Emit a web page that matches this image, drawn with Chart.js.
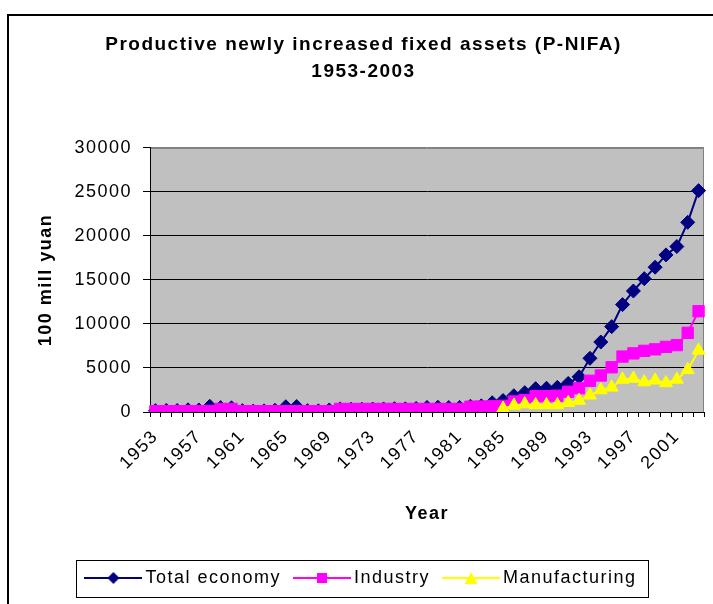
<!DOCTYPE html>
<html>
<head>
<meta charset="utf-8">
<title>P-NIFA 1953-2003</title>
<script src="https://cdn.jsdelivr.net/npm/chart.js@4.4.0/dist/chart.umd.min.js"></script>
<style>
  html, body { margin: 0; padding: 0; background: #fff; overflow: hidden; }
</style>
</head>
<body>
<canvas id="chart" width="713" height="604"></canvas>
<script>
// years on the category axis
const years = [
  '1953','1954','1955','1956','1957','1958','1959','1960','1961','1962',
  '1963','1964','1965','1966','1967','1968','1969','1970','1971','1972',
  '1973','1974','1975','1976','1977','1978','1979','1980','1981','1982',
  '1983','1984','1985','1986','1987','1988','1989','1990','1991','1992',
  '1993','1994','1995','1996','1997','1998','1999','2000','2001','2002','2003'
];

// 100 mill yuan
const totalEconomy = [
  150, 180, 170, 250, 230, 650, 500, 480, 150, 100,
  130, 200, 600, 620, 150, 130, 230, 350, 330, 320,
  340, 350, 380, 360, 400, 520, 540, 500, 520, 650,
  700, 1050, 1300, 1850, 2200, 2650, 2700, 2800, 3250, 4000,
  6100, 7950, 9700, 12200, 13750, 15150, 16450, 17850, 18800, 21550, 25150
];

const industry = [
  100, 100, 100, 100, 100, 120, 350, 350, 100, 100,
  100, 100, 100, 100, 100, 100, 100, 350, 350, 350,
  350, 350, 350, 350, 350, 350, 350, 350, 350, 600,
  620, 650, 700, 1200, 1350, 1800, 1800, 1850, 2300, 2700,
  3550, 4150, 5080, 6300, 6660, 6950, 7120, 7400, 7600, 9000, 11450
];

const manufacturing = [
  null, null, null, null, null, null, null, null, null, null,
  null, null, null, null, null, null, null, null, null, null,
  null, null, null, null, null, null, null, null, null, null,
  null, null, 400, 750, 900, 800, 800, 800, 1050, 1300,
  1900, 2500, 2800, 3700, 3800, 3400, 3600, 3300, 3700, 4800, 7000
];

const yMax = 30000;
const yStep = 5000;

const FONT = '"Liberation Sans", Arial, sans-serif';
const SPACING = '1.5px';

// line + marker swatches for the legend
function legendIcon(color, marker) {
  const c = document.createElement('canvas');
  c.width = 58; c.height = 16;
  const g = c.getContext('2d');
  g.strokeStyle = color;
  g.lineWidth = 2;
  g.beginPath(); g.moveTo(0, 8); g.lineTo(58, 8); g.stroke();
  g.fillStyle = color;
  g.beginPath();
  if (marker === 'diamond') {
    g.moveTo(29, 2); g.lineTo(35, 8); g.lineTo(29, 14); g.lineTo(23, 8);
  } else if (marker === 'square') {
    g.rect(24, 3, 10, 10);
  } else {
    g.moveTo(29, 2); g.lineTo(35.5, 14); g.lineTo(22.5, 14);
  }
  g.closePath();
  g.fill();
  return c;
}
const legendIcons = [
  legendIcon('#000080', 'diamond'),
  legendIcon('#FF00FF', 'square'),
  legendIcon('#FFFF00', 'triangle')
];

// Excel-like wide text spacing
const textSpacing = {
  id: 'textSpacing',
  beforeLayout(chart) { chart.ctx.letterSpacing = SPACING; },
  beforeDraw(chart) { chart.ctx.letterSpacing = SPACING; }
};

// grey plot area, outer border, legend box
const frames = {
  id: 'frames',
  beforeDraw(chart) {
    const { ctx, chartArea: a } = chart;
    ctx.save();
    ctx.fillStyle = '#C0C0C0';
    ctx.fillRect(a.left, a.top, a.right - a.left, a.bottom - a.top);
    ctx.strokeStyle = '#808080';
    ctx.lineWidth = 1;
    ctx.beginPath();
    ctx.moveTo(a.left, a.top + 0.5);
    ctx.lineTo(a.right - 0.5, a.top + 0.5);
    ctx.lineTo(a.right - 0.5, a.bottom);
    ctx.stroke();
    ctx.restore();
  },
  afterDraw(chart) {
    const ctx = chart.ctx;
    ctx.save();
    ctx.strokeStyle = '#000';
    ctx.lineWidth = 2;
    ctx.strokeRect(8, 15, 740, 640);
    const hb = chart.legend.legendHitBoxes;
    if (hb && hb.length) {
      const first = hb[0], last = hb[hb.length - 1];
      const left = Math.round(first.left - 14) + 0.5;
      const right = Math.round(last.left + last.width + 11) + 0.5;
      const midY = first.top + first.height / 2;
      ctx.lineWidth = 1;
      ctx.strokeRect(left, Math.round(midY - 18.5) + 0.5, right - left, 37);
    }
    ctx.restore();
  }
};

new Chart(document.getElementById('chart'), {
  type: 'line',
  data: {
    labels: years,
    datasets: [
      {
        label: 'Total economy', data: totalEconomy, order: 3,
        borderColor: '#000080', backgroundColor: '#000080', borderWidth: 2,
        pointStyle: 'rectRot', pointRadius: 7, pointBorderWidth: 1, tension: 0
      },
      {
        label: 'Industry', data: industry, order: 2,
        borderColor: '#FF00FF', backgroundColor: '#FF00FF', borderWidth: 2,
        pointStyle: 'rect', pointRadius: 8, pointBorderWidth: 1, tension: 0
      },
      {
        label: 'Manufacturing', data: manufacturing, order: 1,
        borderColor: '#FFFF00', backgroundColor: '#FFFF00', borderWidth: 2,
        pointStyle: 'triangle', pointRadius: 7.5, pointBorderWidth: 1, tension: 0
      }
    ]
  },
  options: {
    responsive: false,
    animation: false,
    layout: { padding: { left: 14, right: 0, top: 0, bottom: 7 } },
    plugins: {
      title: {
        display: true,
        text: ['Productive newly increased fixed assets (P-NIFA)', '1953-2003'],
        color: '#000',
        font: { family: FONT, size: 19, weight: 'bold', lineHeight: 1.42 },
        padding: { top: 31.5, bottom: 62.5 }
      },
      legend: {
        position: 'bottom',
        labels: {
          usePointStyle: true,
          pointStyleWidth: 46,
          padding: 18,
          color: '#000',
          font: { family: FONT, size: 18 },
          sort: (a, b) => a.datasetIndex - b.datasetIndex,
          generateLabels(chart) {
            const items = Chart.defaults.plugins.legend.labels.generateLabels(chart);
            items.forEach(it => { it.pointStyle = legendIcons[it.datasetIndex]; });
            return items;
          }
        }
      },
      tooltip: { enabled: false }
    },
    scales: {
      x: {
        offset: true,
        afterFit(s) { s.height = 139; s.paddingLeft = 0; s.paddingRight = 7; },
        ticks: {
          autoSkip: false, maxRotation: 45, minRotation: 45, padding: 9,
          color: '#000', font: { family: FONT, size: 18 },
          callback(v, i) { return i % 4 === 0 ? years[i] : ''; }
        },
        grid: { offset: true, drawOnChartArea: false, color: '#000', tickLength: 5 },
        border: { color: '#000', width: 1 },
        title: {
          display: true, text: 'Year', color: '#000',
          font: { family: FONT, size: 18, weight: 'bold' },
          padding: { top: 0, bottom: 26 }
        }
      },
      y: {
        min: 0, max: yMax,
        afterFit(s) { s.width = 136; },
        ticks: {
          stepSize: yStep, padding: 11, color: '#000',
          font: { family: FONT, size: 18 },
          callback(v) { return String(v); }
        },
        grid: {
          color: c => (c.tick && c.tick.value === yMax ? '#808080' : '#000'),
          tickColor: '#000', tickLength: 7, lineWidth: 1
        },
        border: { color: '#000', width: 1 },
        title: {
          display: true, text: '100 mill yuan', color: '#000',
          font: { family: FONT, size: 18, weight: 'bold' },
          padding: { top: 21, bottom: 0 }
        }
      }
    }
  },
  plugins: [textSpacing, frames]
});
</script>
</body>
</html>
